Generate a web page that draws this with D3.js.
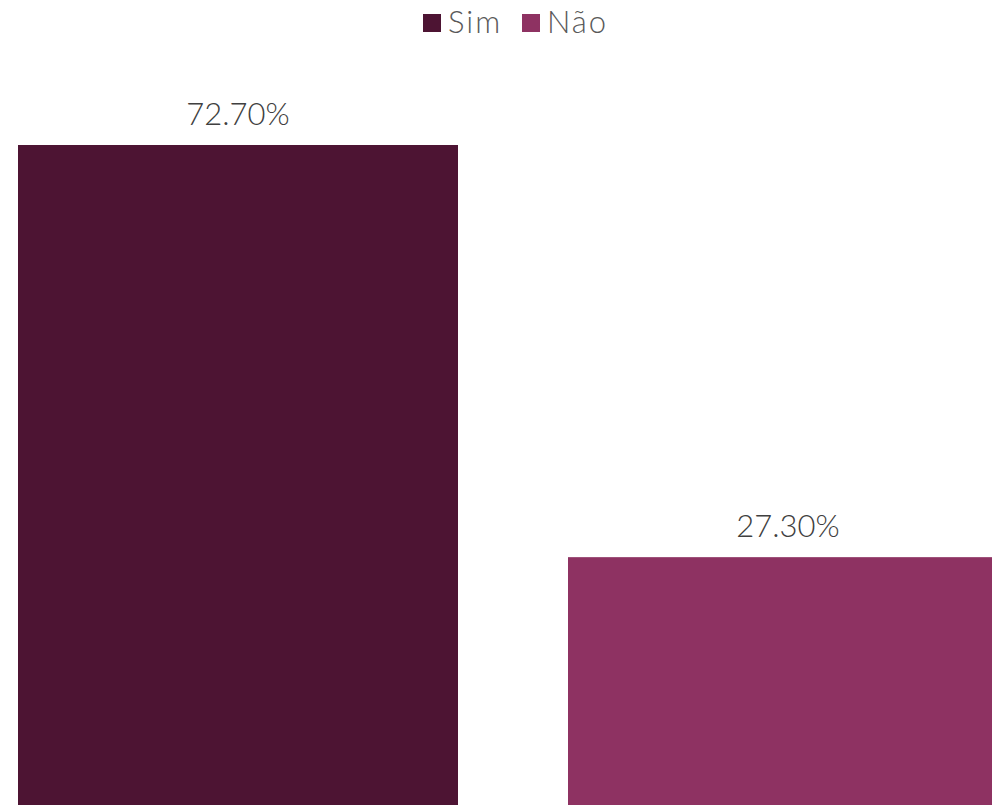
<!DOCTYPE html>
<html>
<head>
<meta charset="utf-8">
<script src="https://cdn.jsdelivr.net/npm/d3@7"></script>
<style>
html, body { margin: 0; padding: 0; background: #fff; overflow: hidden; }
svg { display: block; }
</style>
</head>
<body>
<svg id="chart" width="992" height="805"></svg>
<script>
const categories = ["Sim", "Não"];
const values = [72.7, 27.3];
const labels = ["72.70%", "27.30%"];
const colors = ["#4D1433", "#8E3262"];

const W = 992, H = 805;
const svg = d3.select("#chart");
const font = "Lato, 'Open Sans', sans-serif";

const x = d3.scaleBand().domain(categories).range([-37, 1063]).paddingInner(0.2).paddingOuter(0.1);
const y = d3.scaleLinear().domain([0, 80]).range([H, H - 80 * (660 / 72.7)]);
const color = d3.scaleOrdinal().domain(categories).range(colors);

const data = categories.map((c, i) => ({ c, v: values[i], l: labels[i] }));

svg.selectAll("rect.bar").data(data).join("rect")
  .attr("class", "bar")
  .attr("x", d => x(d.c))
  .attr("y", d => y(d.v))
  .attr("width", x.bandwidth())
  .attr("height", d => y(0) - y(d.v))
  .attr("fill", d => color(d.c));

svg.selectAll("text.lbl").data(data).join("text")
  .attr("class", "lbl")
  .attr("x", d => x(d.c) + x.bandwidth() / 2)
  .attr("y", d => y(d.v) - 20)
  .attr("text-anchor", "middle")
  .attr("font-family", font)
  .attr("font-weight", 300)
  .attr("font-size", 31)
  .attr("fill", "#404040")
  .text(d => d.l);

// legend
const legendItems = [
  { c: "Sim", sx: 423, tx: 448 },
  { c: "Não", sx: 522, tx: 547 }
];
const lg = svg.append("g");
lg.selectAll("rect").data(legendItems).join("rect")
  .attr("x", d => d.sx).attr("y", 14).attr("width", 18).attr("height", 18)
  .attr("fill", d => color(d.c));
lg.selectAll("text").data(legendItems).join("text")
  .attr("x", d => d.tx).attr("y", 33)
  .attr("font-family", font)
  .attr("font-weight", 300)
  .attr("font-size", 31)
  .attr("letter-spacing", 2)
  .attr("fill", "#595959")
  .text(d => d.c);
</script>
</body>
</html>
